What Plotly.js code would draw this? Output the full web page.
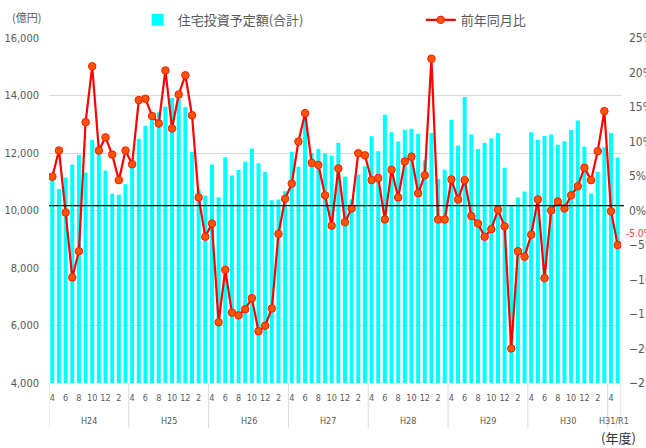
<!DOCTYPE html>
<html>
<head>
<meta charset="utf-8">
<script src="https://cdn.plot.ly/plotly-3.0.1.min.js"></script>
<style>html,body{margin:0;padding:0;background:#fff;}#chart{width:646px;height:448px;}</style>
</head>
<body>
<div id="chart"></div>
<script>
// Fiscal years (April start) and month labels
const fiscalYears = ['H24','H25','H26','H27','H28','H29','H30','H31/R1'];
const monthLabels = ['4','5','6','7','8','9','10','11','12','1','2','3'];
const barName = '住宅投資予定額(合計)';
const lineName = '前年同月比';

// 住宅投資予定額(合計) 億円, Apr 2012 .. May 2019
const investment = [
  11080,10750,11150,11600,11930,11320,12460,12050,11390,10580,10550,10910,
  11550,12490,12950,13300,13420,13620,13910,13880,13600,12040,10730,10520,
  11600,10460,11850,11220,11410,11700,12160,11640,11350,10360,10380,10670,
  12040,11520,13530,12000,12140,11970,11910,12350,11170,10380,11250,11540,
  12580,12060,13330,12720,12400,12810,12840,12670,11740,12700,11100,11420,
  13160,12260,13950,12640,12140,12350,12510,12700,11490,10150,10450,10660,
  12720,12460,12590,12640,12290,12410,12800,13130,12220,10590,11350,12200,
  12700,11840
];
// 前年同月比 %
const yoyPct = [
  4.9,8.7,-0.3,-9.7,-5.9,12.8,20.9,8.7,10.6,8.1,4.4,8.7,
  6.7,16.0,16.2,13.7,12.6,20.3,11.9,16.8,19.6,13.8,1.9,-3.8,
  -1.9,-16.2,-8.6,-14.8,-15.2,-14.3,-12.7,-17.5,-16.7,-14.2,-3.4,1.7,
  3.9,10.0,14.1,6.9,6.6,2.2,-2.2,6.1,-1.7,0.3,8.3,8.0,
  4.4,4.7,-1.3,5.9,1.9,7.1,7.8,2.5,5.1,22.0,-1.3,-1.3,
  4.5,1.6,4.4,-0.8,-1.9,-3.8,-2.7,0.1,-2.3,-20.0,-5.9,-6.7,
  -3.5,1.6,-9.8,0.0,1.3,0.3,2.2,3.5,6.2,4.4,8.6,14.4,
  -0.1,-5.0
];

const n = investment.length;
const xs = investment.map((_, i) => i);
const tickvals = xs.filter(i => i % 2 === 0);
const ticktext = tickvals.map(i => monthLabels[i % 12]);

const grayText = '#595959';
const numFont = "'Liberation Sans Narrow','DejaVu Sans Condensed','Liberation Sans',sans-serif";
const jpFont = "'Noto Sans CJK JP',sans-serif";

const traces = [
  {
    type: 'bar', x: xs, y: investment, name: barName,
    marker: {color: '#00ffff'}, width: 0.6, yaxis: 'y', legend: 'legend'
  },
  {
    type: 'scatter', mode: 'lines+markers', x: xs, y: yoyPct, name: lineName,
    yaxis: 'y2', legend: 'legend2',
    line: {color: '#ff0000', width: 2.2},
    marker: {color: '#ff5500', size: 7.5, line: {color: '#ff1a00', width: 1}}
  }
];

// year labels and dividers
const annotations = [];
const shapes = [];
fiscalYears.forEach((fy, k) => {
  const start = k * 12;
  const end = Math.min(start + 12, n);
  annotations.push({
    x: (start + end - 1) / 2, y: -0.11, xref: 'x', yref: 'paper', yanchor: 'middle',
    text: fy, showarrow: false, font: {family: numFont, size: 9, color: grayText}
  });
  shapes.push({type: 'line', xref: 'x', yref: 'paper', x0: start - 0.5, x1: start - 0.5, y0: 0, y1: -0.13,
    line: {color: '#d9d9d9', width: 1}});
});
shapes.push({type: 'line', xref: 'x', yref: 'paper', x0: n - 0.5, x1: n - 0.5, y0: 0, y1: -0.13,
  line: {color: '#d9d9d9', width: 1}});
// zero reference line
shapes.push({type: 'line', xref: 'paper', yref: 'y2', x0: 0, x1: 1.005, y0: 0.7, y1: 0.7,
  line: {color: '#000000', width: 1.3}});

annotations.push({x: 0, y: 1.06, xref: 'paper', yref: 'paper', xanchor: 'right', yanchor: 'middle', xshift: -6,
  text: '(億円)', showarrow: false, font: {family: jpFont, size: 11, color: grayText}});
annotations.push({x: 1, y: -0.157, xref: 'paper', yref: 'paper', xanchor: 'left', yanchor: 'middle', xshift: -22,
  text: '(年度)', showarrow: false, font: {family: jpFont, size: 13, color: '#333333'}});
// last value label
annotations.push({x: n - 1, y: yoyPct[n - 1], xref: 'x', yref: 'y2', xanchor: 'left', yanchor: 'middle',
  xshift: 6, yshift: 12, text: yoyPct[n - 1].toFixed(1) + '%', showarrow: false,
  font: {family: numFont, size: 10, color: '#ff4040'}});

const legendBase = {orientation: 'h', xanchor: 'left', yanchor: 'top', y: 1.096,
  font: {family: jpFont, size: 13, color: grayText}, itemwidth: 30, bgcolor: 'rgba(0,0,0,0)'};

const layout = {
  width: 646, height: 448,
  margin: {l: 49, r: 25, t: 38, b: 65, autoexpand: false},
  paper_bgcolor: '#ffffff', plot_bgcolor: '#ffffff',
  showlegend: true,
  legend: Object.assign({}, legendBase, {x: 0.155}),
  legend2: Object.assign({}, legendBase, {x: 0.650}),
  xaxis: {
    range: [-0.5, n - 0.5], tickvals: tickvals, ticktext: ticktext, tickangle: 0,
    showgrid: false, zeroline: false, showline: false, ticks: '', ticklabelstandoff: 8,
    tickfont: {family: numFont, size: 9, color: grayText}, fixedrange: true
  },
  yaxis: {
    range: [4000, 16000], dtick: 2000, tickformat: ',d', showgrid: true, gridcolor: '#d9d9d9',
    zeroline: false, showline: false, ticks: '', ticklabelstandoff: 9,
    tickfont: {family: numFont, size: 11, color: grayText}
  },
  yaxis2: {
    range: [-25, 25], dtick: 5, ticksuffix: '%', overlaying: 'y', side: 'right',
    showgrid: false, zeroline: false, showline: false, ticks: '', ticklabelstandoff: 7,
    tickfont: {family: numFont, size: 12, color: grayText}
  },
  annotations: annotations,
  shapes: shapes
};

Plotly.newPlot('chart', traces, layout, {displayModeBar: false, staticPlot: true});
</script>
</body>
</html>
